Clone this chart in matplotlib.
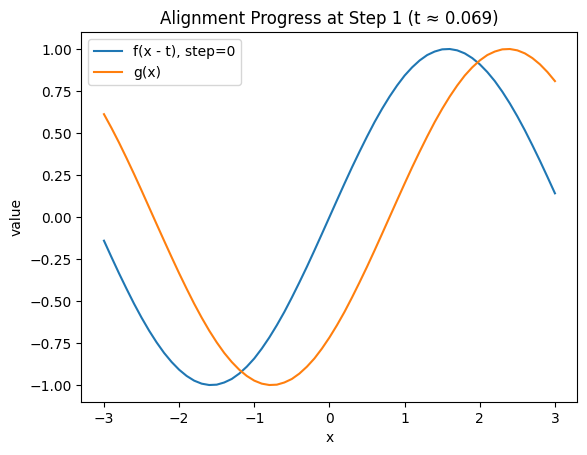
import matplotlib
matplotlib.use("Agg")
from matplotlib import pyplot as plt

# sample positions and values
x = [-3.0, -2.9, -2.8, -2.7, -2.6, -2.5, -2.4, -2.3, -2.2, -2.1,
     -2.0, -1.9, -1.8, -1.7, -1.6, -1.5, -1.4, -1.3, -1.2, -1.1,
     -1.0, -0.9, -0.8, -0.7, -0.6, -0.5, -0.4, -0.3, -0.2, -0.1,
     0.0, 0.1, 0.2, 0.3, 0.4, 0.5, 0.6, 0.7, 0.8, 0.9,
     1.0, 1.1, 1.2, 1.3, 1.4, 1.5, 1.6, 1.7, 1.8, 1.9,
     2.0, 2.1, 2.2, 2.3, 2.4, 2.5, 2.6, 2.7, 2.8, 2.9, 3.0]
f_shifted = [-0.141, -0.239, -0.335, -0.427, -0.516, -0.599, -0.676, -0.746, -0.809, -0.863,
             -0.909, -0.946, -0.974, -0.992, -1.000, -0.998, -0.985, -0.964, -0.932, -0.891,
             -0.842, -0.783, -0.717, -0.644, -0.565, -0.479, -0.389, -0.296, -0.199, -0.100,
             0.000, 0.100, 0.199, 0.296, 0.389, 0.479, 0.565, 0.644, 0.717, 0.783,
             0.842, 0.891, 0.932, 0.964, 0.985, 0.998, 1.000, 0.992, 0.974, 0.946,
             0.909, 0.863, 0.809, 0.746, 0.676, 0.599, 0.516, 0.427, 0.335, 0.239, 0.141]
g_vals = [0.612, 0.530, 0.443, 0.351, 0.256, 0.158, 0.058, -0.042, -0.141, -0.239,
          -0.335, -0.427, -0.516, -0.599, -0.676, -0.746, -0.809, -0.863, -0.909, -0.946,
          -0.974, -0.992, -1.000, -0.998, -0.985, -0.964, -0.932, -0.891, -0.842, -0.783,
          -0.717, -0.644, -0.565, -0.479, -0.389, -0.296, -0.199, -0.100, 0.000, 0.100,
          0.199, 0.296, 0.389, 0.479, 0.565, 0.644, 0.717, 0.783, 0.842, 0.891,
          0.932, 0.964, 0.985, 0.998, 1.000, 0.992, 0.974, 0.946, 0.909, 0.863, 0.809]

fig = plt.figure(figsize=(5.87, 4.55), dpi=100)
ax = fig.add_axes([0.1387, 0.1169, 0.8451, 0.8123])
ax.plot(x, f_shifted, label="f(x - t), step=0")
ax.plot(x, g_vals, label="g(x)")
ax.set_title("Alignment Progress at Step 1 (t \u2248 0.069)")
ax.set_xlabel("x")
ax.set_ylabel("value")
ax.legend(loc="upper left")
fig.savefig("out.png", dpi=100)
